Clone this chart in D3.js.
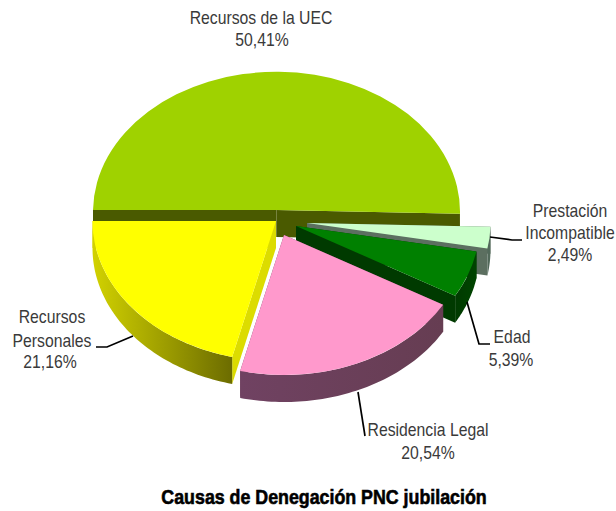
<!DOCTYPE html>
<html><head><meta charset="utf-8">
<script src="https://cdn.jsdelivr.net/npm/d3@7"></script>
<style>html,body{margin:0;padding:0;background:#fff}svg{display:block}</style>
</head><body><div id="c"></div>
<script>
const categories = ["Recursos de la UEC","Prestación Incompatible","Edad","Residencia Legal","Recursos Personales"];
const values = [50.41,2.49,5.39,20.54,21.16];
const valueLabels = ["50,41%","2,49%","5,39%","20,54%","21,16%"];
const topColors = ["#9fd200","#ccffcc","#008000","#ff99cc","#ffff00"];
const faceColors = ["#4a5a00","#5c6f60","#003a00","#6a3f58","#dcdc00"];
const wallStart = ["#4a5a00","#52695a","#003a00","#704262","#d2d200"];
const wallEnd   = ["#4a5a00","#52695a","#004400","#663d52","#6c6c00"];

const W=616,H=511,cx=276.5,cy=210,rx=183.5,ry=140,depth=27;
const explodeX=[0,30.5,19.5,7.5,-0.5], explodeY=[0,13,16,25,11];

const svg=d3.select("#c").append("svg").attr("width",W).attr("height",H);
const defs=svg.append("defs");
const sx=d3.scaleLinear().domain([-1,1]).range([cx-rx,cx+rx]);
const sy=d3.scaleLinear().domain([-1,1]).range([cy-ry,cy+ry]);
const arcs=d3.pie().sort(null).startAngle(-Math.PI/2).endAngle(3*Math.PI/2)(values);
const arcGen=d3.arc().innerRadius(0).outerRadius(1);
const line=d3.line();

arcs.forEach((a,i)=>{
  const dx=explodeX[i],dy=explodeY[i];
  const g=svg.append("g").attr("transform",`translate(${dx},${dy})`);
  const pt=t=>[sx(Math.sin(t)),sy(-Math.cos(t))];
  const apex=[sx(0),sy(0)];
  const down=p=>[p[0],p[1]+depth];
  [a.startAngle,a.endAngle].forEach(t=>{
    const p=pt(t);
    g.append("path").attr("d",line([apex,p,down(p),down(apex)])+"Z").attr("fill",faceColors[i]);
  });
  const t0=Math.max(a.startAngle,Math.PI/2),t1=Math.min(a.endAngle,3*Math.PI/2);
  if(t1>t0){
    const n=60;
    const ts=d3.range(n+1).map(k=>t0+(t1-t0)*k/n);
    const top=ts.map(pt);
    const poly=top.concat(top.slice().reverse().map(down));
    const id="w"+i;
    const xs=top.map(p=>p[0]);
    const grad=defs.append("linearGradient").attr("id",id).attr("gradientUnits","userSpaceOnUse")
      .attr("x1",d3.min(xs)).attr("x2",d3.max(xs)).attr("y1",0).attr("y2",0);
    grad.append("stop").attr("offset",0).attr("stop-color",wallStart[i]);
    grad.append("stop").attr("offset",1).attr("stop-color",wallEnd[i]);
    g.append("path").attr("d",line(poly)+"Z").attr("fill",`url(#${id})`);
  }
  g.append("path").attr("d",arcGen(a))
    .attr("transform",`translate(${cx},${cy}) scale(${rx},${ry})`)
    .attr("fill",topColors[i]);
});

const leaders=[
  [[490,237],[512,240],[522,240]],
  [[467,302],[479,344],[490,344]],
  [[358,392],[365,436]],
  [[133,336],[107,347],[96,347]]
];
svg.append("g").selectAll("path").data(leaders).join("path")
  .attr("d",d=>line(d)).attr("fill","none").attr("stroke","#000").attr("stroke-width",1.7);

const textRows=[
  [categories[0],261,24],[valueLabels[0],262,46],
  ["Prestación",570,217],["Incompatible",570,239],[valueLabels[1],570,261],
  [categories[2],512,343],[valueLabels[2],511,366],
  [categories[3],428,436],[valueLabels[3],428,459],
  ["Recursos",52,323],["Personales",52,347],[valueLabels[4],50,368]
];
svg.append("g").selectAll("text").data(textRows).join("text")
  .attr("transform",d=>`translate(${d[1]},${d[2]}) scale(0.83,1)`).attr("text-anchor","middle")
  .attr("font-family","'Liberation Sans'").attr("font-size",19).attr("fill","#3a3a3a")
  .text(d=>d[0]);
svg.append("text").attr("transform","translate(324,504) scale(0.89,1)").attr("text-anchor","middle")
  .attr("font-family","'Liberation Sans'").attr("font-weight","bold").attr("font-size",20)
  .attr("fill","#000").attr("stroke","#000").attr("stroke-width",0.6)
  .text("Causas de Denegación PNC jubilación");
</script></body></html>
